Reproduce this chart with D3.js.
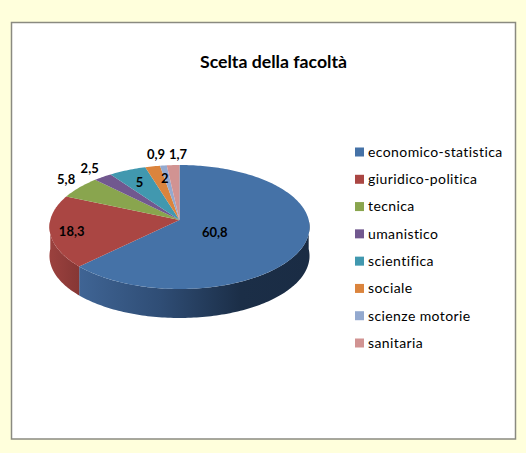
<!doctype html>
<html>
  <head>
    <meta charset="utf-8">
    <title>Scelta della facoltà</title>
    <style>
      html, body { margin: 0; padding: 0; background: #ffffdc; }
      svg { display: block; }
      text { font-family: Lato, sans-serif; fill: #000; }
      .title { font-size: 17.7px; font-weight: 700; text-anchor: middle; }
      .label { font-size: 13px; font-weight: 700; text-anchor: middle; }
      .legend text { font-size: 14px; letter-spacing: .4px; }
    </style>
    <script src="https://cdn.jsdelivr.net/npm/d3@7"></script>
  </head>
  <body>
  <script>
    const categories = ["economico-statistica", "giuridico-politica", "tecnica", "umanistico",
      "scientifica", "sociale", "scienze motorie", "sanitaria"];
    const values = [60.8, 18.3, 5.8, 2.5, 5, 2, 0.9, 1.7];
    const valueLabels = ["60,8", "18,3", "5,8", "2,5", "5", "2", "0,9", "1,7"];
    const colors = ["#4572a7", "#aa4643", "#89a54e", "#71588f", "#4198af", "#db843d", "#93a9cf", "#d19392"];

    // nudges for the data labels, relative to the slice anchor
    const labelNudge = [[-57, -6], [-11, 3], [-37, -16], [-31, -19], [0, 1], [6, 0], [-11, -24], [3.5, -23]];

    const width = 526, height = 453;
    const cx = 179.5, cy = 220, a = 129.2, b = 61.2, k = 0.113, depth = 29;

    const svg = d3.select("body").append("svg")
        .attr("width", width)
        .attr("height", height);

    svg.append("rect")
        .attr("x", 11.5).attr("y", 22.5)
        .attr("width", 504).attr("height", 416.5)
        .attr("fill", "#fff")
        .attr("stroke", "#8a8a80")
        .attr("stroke-width", 1.5);

    svg.append("text")
        .attr("class", "title")
        .attr("x", 273.5).attr("y", 67.5)
        .text("Scelta della facoltà");

    // flat disc seen in perspective: the centre sits above the middle of the ellipse
    function project(angle, r) {
      const u = r * Math.sin(angle), v = -r * Math.cos(angle), w = 1 - k * v;
      return [cx + a * u / w, cy + b * v / w];
    }

    function rim(start, end) {
      const n = Math.max(2, Math.ceil(Math.abs(end - start) / 0.02));
      return d3.range(n + 1).map(i => project(start + (end - start) * i / n, 1));
    }

    const line = d3.line();
    const arcs = d3.pie().sort(null)(values);

    const defs = svg.append("defs");
    const grad = defs.append("linearGradient")
        .attr("id", "blueSide")
        .attr("gradientUnits", "userSpaceOnUse")
        .attr("x1", 80).attr("x2", 310).attr("y1", 0).attr("y2", 0);
    grad.append("stop").attr("offset", 0).attr("stop-color", "#3f6494");
    grad.append("stop").attr("offset", 0.35).attr("stop-color", "#2f4d75");
    grad.append("stop").attr("offset", 0.7).attr("stop-color", "#1b2e47");
    grad.append("stop").attr("offset", 1).attr("stop-color", "#1a2c44");

    const redGrad = defs.append("linearGradient")
        .attr("id", "redSide")
        .attr("gradientUnits", "userSpaceOnUse")
        .attr("x1", 50).attr("x2", 82).attr("y1", 0).attr("y2", 0);
    redGrad.append("stop").attr("offset", 0).attr("stop-color", "#9b413e");
    redGrad.append("stop").attr("offset", 1).attr("stop-color", "#843634");

    // side wall, only the front half of the rim shows
    const sides = [
      {start: Math.PI / 2, end: arcs[0].endAngle, fill: "url(#blueSide)"},
      {start: arcs[1].startAngle, end: Math.PI * 1.5, fill: "url(#redSide)"}
    ];
    svg.append("g").selectAll("path")
      .data(sides)
      .enter().append("path")
        .attr("fill", d => d.fill)
        .attr("d", d => {
          const top = rim(d.start, d.end);
          const bottom = top.map(p => [p[0], p[1] + depth]).reverse();
          return line(top.concat(bottom)) + "Z";
        });

    // top of the pie
    svg.append("g").selectAll("path")
      .data(arcs)
      .enter().append("path")
        .attr("fill", (d, i) => colors[i])
        .attr("d", d => line([project(0, 0)].concat(rim(d.startAngle, d.endAngle))) + "Z");

    svg.append("g").selectAll("text")
      .data(arcs)
      .enter().append("text")
        .attr("class", "label")
        .attr("x", (d, i) => project((d.startAngle + d.endAngle) / 2, 0.75)[0] + labelNudge[i][0])
        .attr("y", (d, i) => project((d.startAngle + d.endAngle) / 2, 0.75)[1] + labelNudge[i][1])
        .attr("dy", ".35em")
        .text((d, i) => valueLabels[i]);

    // legend
    const legendY = d3.scalePoint().domain(categories).range([152, 343]);
    const legend = svg.append("g").attr("class", "legend")
      .selectAll("g")
      .data(categories)
      .enter().append("g")
        .attr("transform", d => "translate(355," + legendY(d) + ")");

    legend.append("rect")
        .attr("y", -4.5)
        .attr("width", 9).attr("height", 9)
        .attr("fill", (d, i) => colors[i]);

    legend.append("text")
        .attr("x", 13)
        .attr("dy", ".35em")
        .text(d => d);
  </script>
  </body>
</html>
